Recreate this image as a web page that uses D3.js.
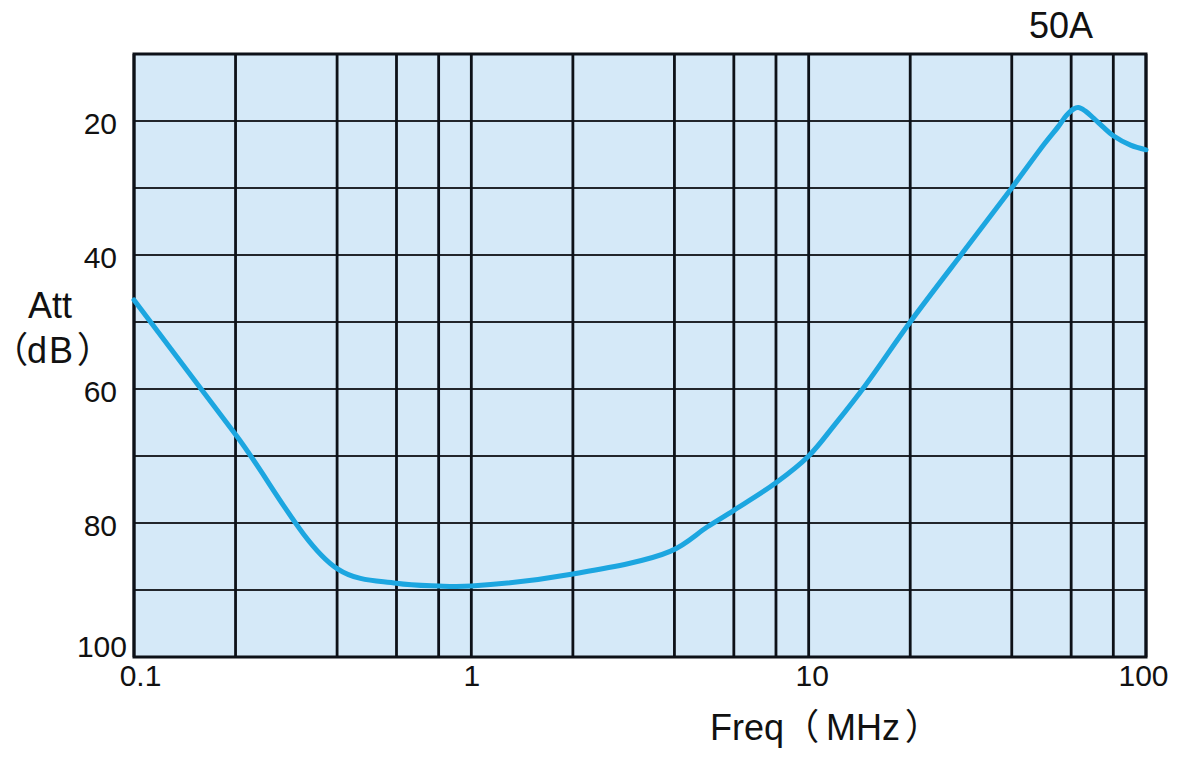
<!DOCTYPE html>
<html><head><meta charset="utf-8">
<script src="https://cdn.jsdelivr.net/npm/d3@7/dist/d3.min.js"></script>
<style>
body{margin:0;background:#fff;}
text{font-family:"Liberation Sans",Arial,sans-serif;fill:#111;}
.cjk{font-family:"Noto Sans CJK JP",sans-serif;font-feature-settings:"palt" 1;}
</style></head>
<body><svg id="c" width="1184" height="762"></svg>
<script>
const freq = [0.1, 0.2, 0.4, 0.6, 0.8, 1, 2, 3.9, 5, 6, 8, 10, 12, 14.7, 20, 30, 40, 50, 55, 58, 61, 63, 66, 70, 75, 80, 90, 100];
const att  = [46.7, 66.8, 86.8, 89.0, 89.4, 89.4, 87.6, 84.2, 80.6, 78.1, 74.0, 70.0, 65.2, 59.5, 50.0, 38.3, 30.0, 23.4, 20.8, 19.2, 18.2, 18.0, 18.5, 19.6, 21.0, 22.2, 23.6, 24.3];
const xGrid = [0.1, 0.2, 0.4, 0.6, 0.8, 1, 2, 4, 6, 8, 10, 20, 40, 60, 80, 100];
const yGrid = [10, 20, 30, 40, 50, 60, 70, 80, 90, 100];
const xTicks = [0.1, 1, 10, 100];
const xTickLabels = ["0.1", "1", "10", "100"];
const yTicks = [20, 40, 60, 80, 100];
const title = "50A";
const xTitleParts = ["Freq", "（", "MHz", "）"];
const yTitle1 = "Att";
const yTitle2Parts = ["（", "dB", "）"];

const L = 134, R = 1146, T = 54, B = 657;
const svg = d3.select("#c");
const x = d3.scaleLog().domain([0.1, 100]).range([L, R]);
const y = d3.scaleLinear().domain([10, 100]).range([T, B]);

svg.append("rect").attr("x", L).attr("y", T).attr("width", R - L).attr("height", B - T).attr("fill", "#d5e9f8");

svg.append("g").selectAll("line").data(yGrid).join("line")
  .attr("x1", L).attr("x2", R).attr("y1", d => y(d)).attr("y2", d => y(d))
  .attr("stroke", "#22262c").attr("stroke-width", 2);
svg.append("g").selectAll("line").data(xGrid).join("line")
  .attr("x1", d => x(d)).attr("x2", d => x(d)).attr("y1", T).attr("y2", B)
  .attr("stroke", "#0d1118").attr("stroke-width", 2.8);
svg.append("rect").attr("x", L).attr("y", T).attr("width", R - L).attr("height", B - T)
  .attr("fill", "none").attr("stroke", "#0d1118").attr("stroke-width", 3);

const line = d3.line().x(d => x(d[0])).y(d => y(d[1])).curve(d3.curveCatmullRom.alpha(0.5));
svg.append("path").datum(freq.map((f, i) => [f, att[i]]))
  .attr("d", line).attr("fill", "none").attr("stroke", "#1ca6e0")
  .attr("stroke-width", 5).attr("stroke-linejoin", "round").attr("stroke-linecap", "round");

// y axis labels
const yAxis = d3.axisLeft(y).tickValues(yTicks).tickSize(0).tickPadding(17).tickFormat(d3.format("d"));
const gy = svg.append("g").attr("transform", `translate(${L},0)`).call(yAxis);
gy.select(".domain").remove();
gy.selectAll("text").style("font-size", "30px").attr("fill", "#111")
  .attr("transform", d => d === 100 ? "translate(10,-10)" : "translate(0,3)");

// x axis labels
const xAxis = d3.axisBottom(x).tickValues(xTicks).tickSize(0).tickPadding(8)
  .tickFormat((d, i) => xTickLabels[i]);
const gx = svg.append("g").attr("transform", `translate(0,${B})`).call(xAxis);
gx.select(".domain").remove();
gx.selectAll("text").style("font-size", "30px").attr("fill", "#111")
  .attr("transform", d => d === 0.1 ? "translate(6,0)" : (d === 10 ? "translate(3,0)" : (d === 100 ? "translate(-3,0)" : null)));

svg.append("text").attr("x", 1061).attr("y", 38).attr("text-anchor", "middle")
  .style("font-size", "36px").text(title);

// x title
const xt = svg.append("text").attr("y", 740).style("font-size", "36px");
xt.append("tspan").attr("x", 710).text(xTitleParts[0]);
xt.append("tspan").attr("class", "cjk").attr("x", 800).text(xTitleParts[1]);
xt.append("tspan").attr("x", 826).text(xTitleParts[2]);
xt.append("tspan").attr("class", "cjk").attr("x", 906).text(xTitleParts[3]);

// y title
svg.append("text").attr("x", 50).attr("y", 318).attr("text-anchor", "middle")
  .style("font-size", "36px").text(yTitle1);
const yt = svg.append("text").attr("y", 363).style("font-size", "36px");
yt.append("tspan").attr("class", "cjk").attr("x", 9).text(yTitle2Parts[0]);
yt.append("tspan").attr("x", 27).style("letter-spacing", "2px").text(yTitle2Parts[1]);
yt.append("tspan").attr("class", "cjk").attr("x", 78).text(yTitle2Parts[2]);
</script></body></html>
